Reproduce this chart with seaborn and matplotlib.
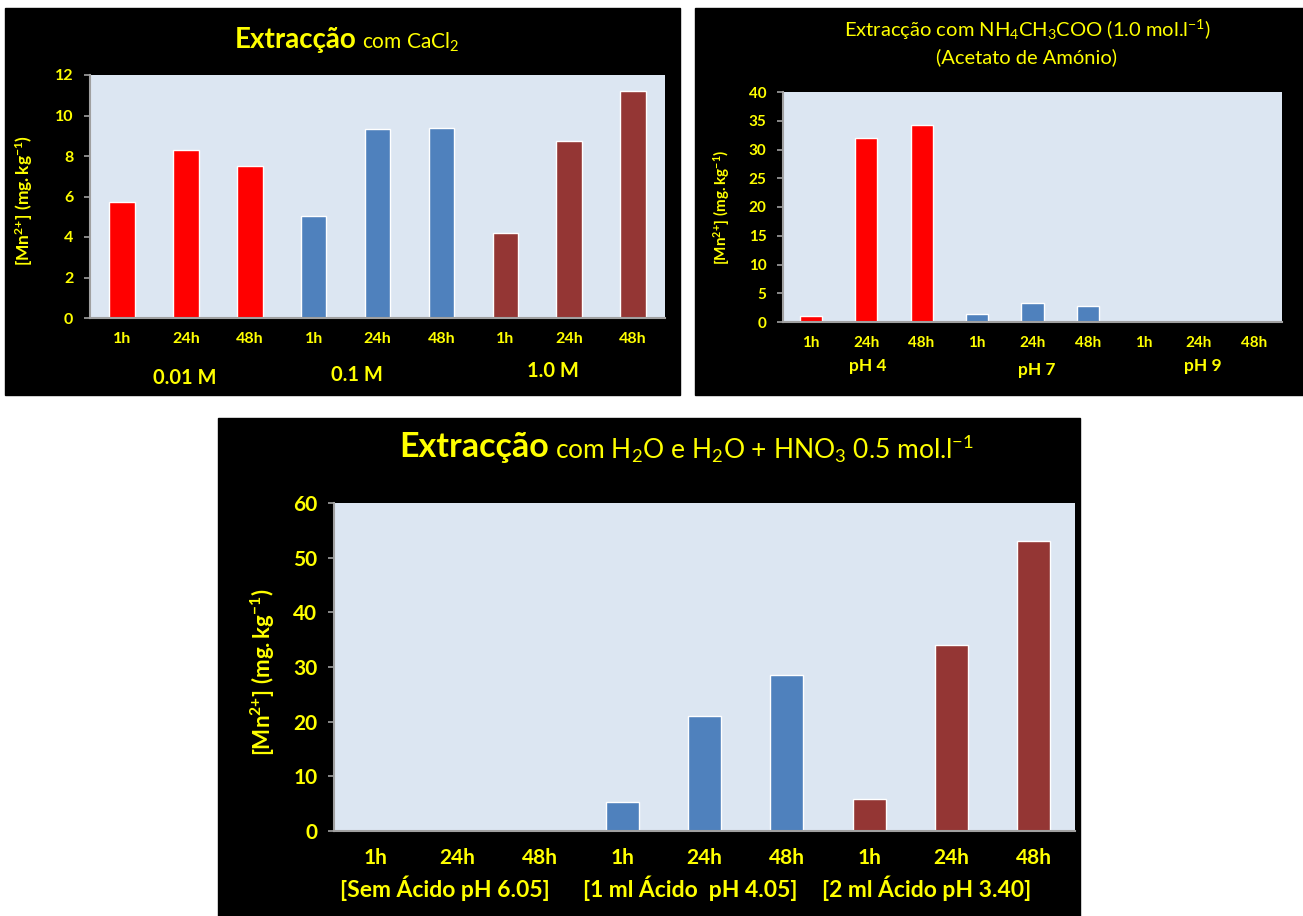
import pandas as pd
import numpy as np

import matplotlib
matplotlib.use("Agg")
import matplotlib.pyplot as plt
from matplotlib.patches import Rectangle
import seaborn as sns

# ==========================================
# DATA
# ==========================================

times = ["1h", "24h", "48h"]

cacl2_groups = ["0.01 M", "0.1 M", "1.0 M"]
cacl2_values = [5.75, 8.3, 7.5, 5.05, 9.35, 9.4, 4.2, 8.75, 11.2]

acetato_groups = ["pH 4", "pH 7", "pH 9"]
acetato_values = [1.0, 32.0, 34.3, 1.4, 3.3, 2.8, 0.0, 0.0, 0.0]

hno3_groups = ["[Sem Ácido pH 6.05]", "[1 ml Ácido  pH 4.05]", "[2 ml Ácido pH 3.40]"]
hno3_values = [0.0, 0.0, 0.0, 5.3, 21.0, 28.5, 5.8, 34.0, 53.0]

bar_colors = ["#FF0000", "#4F81BD", "#943634"]

# ==========================================
# CONFIG
# ==========================================

sns.set_theme(style="white")
plt.rcParams["font.family"] = ["Lato", "DejaVu Sans"]
plt.rcParams["font.weight"] = "bold"
plt.rcParams["mathtext.fontset"] = "custom"
plt.rcParams["mathtext.rm"] = "Lato"
plt.rcParams["mathtext.bf"] = "Lato:bold"
plt.rcParams["mathtext.it"] = "Lato:italic"
plt.rcParams["mathtext.default"] = "regular"

YELLOW = "#FFFF00"
PLOT_BG = "#DCE6F2"
W, H = 1303, 916

fig = plt.figure(figsize=(W / 100, H / 100), dpi=100)
fig.patch.set_facecolor("white")


def fx(x):
    return x / W


def fy(y):
    return 1 - y / H


def black_box(x0, y0, x1, y1):
    fig.add_artist(Rectangle((fx(x0), fy(y1)), fx(x1) - fx(x0), fy(y0) - fy(y1),
                             transform=fig.transFigure, color="black", zorder=-1))


def make_df(groups, values):
    rows = []
    for gi, g in enumerate(groups):
        for ti, t in enumerate(times):
            rows.append({"slot": f"{gi}-{t}", "time": t, "group": g,
                         "value": values[gi * 3 + ti]})
    return pd.DataFrame(rows)


def panel(box, groups, values, ymax, ystep, fs_tick, xpad=10):
    x0, y0, x1, y1 = box
    ax = fig.add_axes([fx(x0), fy(y1), fx(x1) - fx(x0), fy(y0) - fy(y1)])
    df = make_df(groups, values)
    sns.barplot(data=df, x="slot", y="value", hue="group",
                palette=bar_colors, dodge=False, width=0.4,
                legend=False, saturation=1, ax=ax)
    ax.set_facecolor(PLOT_BG)
    ax.set_xlim(-0.5, 8.5)
    ax.set_ylim(0, ymax)
    yt = np.arange(0, ymax + 0.1, ystep)
    ax.set_yticks(yt)
    ax.set_yticklabels([f"{v:g}" for v in yt],
                       color=YELLOW, fontsize=fs_tick, fontweight="bold")
    ax.set_xticks(range(9))
    ax.set_xticklabels(df["time"], color=YELLOW, fontsize=fs_tick, fontweight="bold")
    ax.set_xticks(np.arange(-0.5, 9, 1), minor=True)
    ax.tick_params(axis="x", which="major", length=0, pad=xpad)
    ax.tick_params(axis="x", which="minor", length=4, color="#A0A0A0", width=1.2, direction="out")
    ax.tick_params(axis="y", length=4, color="#A0A0A0", width=1.2, direction="out",
                   left=True, pad=8)
    ax.set_xlabel("")
    ax.set_ylabel("")
    for s in ["top", "right"]:
        ax.spines[s].set_visible(False)
    for s in ["left", "bottom"]:
        ax.spines[s].set_color("#A0A0A0")
        ax.spines[s].set_linewidth(1.5)
    return ax


ylab = r"$\mathbf{[Mn^{2{+}}]\ (mg.kg^{-1})}$"

# ==========================================
# PANEL 1 - CaCl2
# ==========================================

black_box(5, 8, 680, 395)
panel((90, 75, 665, 318), cacl2_groups, cacl2_values, 12, 2, 11.5)
fig.text(fx(357), fy(40), "Extracção", color=YELLOW, fontsize=20,
         fontweight="bold", ha="right", va="center")
fig.text(fx(362), fy(42), "com CaCl$_2$", color=YELLOW, fontsize=15,
         fontweight="normal", ha="left", va="center")
fig.text(fx(24), fy(200), ylab, color=YELLOW, fontsize=12.5,
         rotation=90, ha="center", va="center")
for g, x, y in zip(cacl2_groups, [185, 357, 553], [378, 375, 371]):
    fig.text(fx(x), fy(y), g, color=YELLOW, fontsize=14.5, fontweight="bold",
             ha="center", va="center")

# ==========================================
# PANEL 2 - Acetato de Amonio
# ==========================================

black_box(695, 8, 1303, 395)
panel((783, 92, 1282, 322), acetato_groups, acetato_values, 40, 5, 11)
fig.text(fx(1027), fy(30), "Extracção com NH$_4$CH$_3$COO (1.0 mol.l$^{-1}$)",
         color=YELLOW, fontsize=14.5, fontweight="normal", ha="center", va="center")
fig.text(fx(1027), fy(57), "(Acetato de Amónio)", color=YELLOW, fontsize=14.5,
         fontweight="normal", ha="center", va="center")
fig.text(fx(722), fy(207), ylab, color=YELLOW, fontsize=11,
         rotation=90, ha="center", va="center")
for g, x, y in zip(acetato_groups, [868, 1037, 1203], [366, 370, 366]):
    fig.text(fx(x), fy(y), g, color=YELLOW, fontsize=12.5, fontweight="bold",
             ha="center", va="center")

# ==========================================
# PANEL 3 - H2O e HNO3
# ==========================================

black_box(218, 418, 1080, 916)
panel((334, 503, 1075, 831), hno3_groups, hno3_values, 60, 10, 15, xpad=12)
fig.text(fx(549), fy(447), "Extracção", color=YELLOW, fontsize=24.5,
         fontweight="bold", ha="right", va="center")
fig.text(fx(555), fy(449), "com H$_2$O e H$_2$O + HNO$_3$ 0.5 mol.l$^{-1}$",
         color=YELLOW, fontsize=19, fontweight="normal", ha="left", va="center")
fig.text(fx(263), fy(672), ylab, color=YELLOW, fontsize=16,
         rotation=90, ha="center", va="center")
for g, x in zip(hno3_groups, [445, 690, 927]):
    fig.text(fx(x), fy(888), g, color=YELLOW, fontsize=16.5, fontweight="bold",
             ha="center", va="center")

fig.savefig("out.png", dpi=100, facecolor="white")
